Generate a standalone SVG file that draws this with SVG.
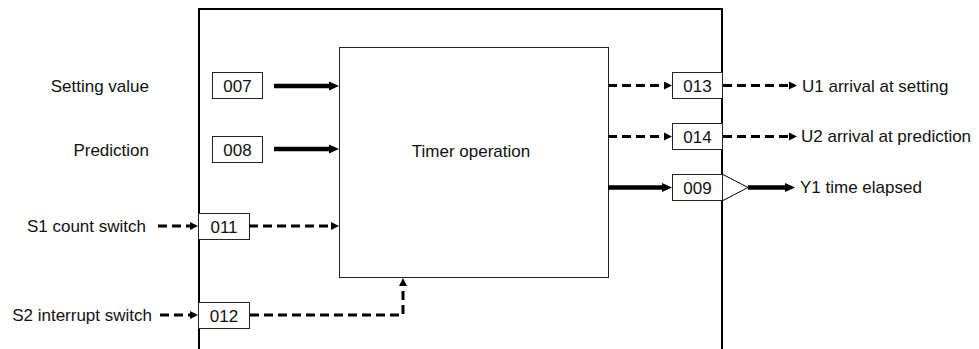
<svg xmlns="http://www.w3.org/2000/svg" width="979" height="349" viewBox="0 0 979 349">
<style>
text{font-family:"Liberation Sans",Arial,sans-serif;font-size:17px;fill:#111;dominant-baseline:central}
.box{fill:#fff;stroke:#222;stroke-width:1}
.thick{stroke:#000;stroke-width:4.5;fill:none}
.dash{stroke:#000;stroke-width:3;fill:none;stroke-dasharray:9 5}
</style>
<defs>
<marker id="ah" markerUnits="userSpaceOnUse" markerWidth="10" markerHeight="10" refX="0" refY="5" orient="auto" overflow="visible"><path d="M0,0.5 L10,5 L0,9.5 z" fill="#000"/></marker>
<marker id="ad" markerUnits="userSpaceOnUse" markerWidth="8" markerHeight="8" refX="0" refY="4" orient="auto" overflow="visible"><path d="M0,0 L8,4 L0,8 z" fill="#000"/></marker>
</defs>
<rect width="979" height="349" fill="#fff"/>
<g id="frame"><path d="M199,380 V9 H722 V380" fill="none" stroke="#000" stroke-width="2"/></g>
<g id="timer"><rect x="339.5" y="47.5" width="269" height="230" class="box"/><text x="471" y="151" text-anchor="middle">Timer operation</text></g>
<g id="labels-left">
<text x="149" y="86" text-anchor="end">Setting value</text>
<text x="149" y="150" text-anchor="end">Prediction</text>
<text x="146" y="226" text-anchor="end">S1 count switch</text>
<text x="152" y="315" text-anchor="end">S2 interrupt switch</text>
</g>
<g id="n007"><rect x="212.5" y="72.5" width="50" height="26" class="box"/><text x="237.5" y="86" text-anchor="middle">007</text></g>
<g id="n008"><rect x="212.5" y="136.5" width="50" height="26" class="box"/><text x="237.5" y="150" text-anchor="middle">008</text></g>
<g id="n011"><rect x="198.5" y="213.5" width="51" height="26" class="box"/><text x="224" y="227" text-anchor="middle">011</text></g>
<g id="n012"><rect x="198.5" y="302.5" width="51" height="26" class="box"/><text x="224" y="316" text-anchor="middle">012</text></g>
<g id="n013"><rect x="672.5" y="72.5" width="50" height="26" class="box"/><text x="697.5" y="86" text-anchor="middle">013</text></g>
<g id="n014"><rect x="672.5" y="123.5" width="50" height="26" class="box"/><text x="697.5" y="137" text-anchor="middle">014</text></g>
<g id="n009"><rect x="672.5" y="174.5" width="50" height="26" class="box"/><text x="697.5" y="188" text-anchor="middle">009</text>
<path d="M723,174.5 L748,187.5 L723,200.5" fill="#fff" stroke="#000" stroke-width="1"/></g>
<g id="labels-right">
<text x="802" y="86">U1 arrival at setting</text>
<text x="801" y="136">U2 arrival at prediction</text>
<text x="800" y="187">Y1 time elapsed</text>
</g>
<g id="connectors">
<line x1="274" y1="86" x2="329" y2="86" class="thick" marker-end="url(#ah)"/>
<line x1="274" y1="149" x2="329" y2="149" class="thick" marker-end="url(#ah)"/>
<line x1="608" y1="187.5" x2="662" y2="187.5" class="thick" marker-end="url(#ah)"/>
<line x1="748" y1="187.5" x2="785" y2="187.5" class="thick" marker-end="url(#ah)"/>
<line x1="158" y1="226" x2="190" y2="226" class="dash" marker-end="url(#ad)"/>
<line x1="249" y1="226" x2="331" y2="226" class="dash" marker-end="url(#ad)"/>
<line x1="160" y1="315" x2="190" y2="315" class="dash" marker-end="url(#ad)"/>
<path d="M250,315 H403 V286" class="dash" marker-end="url(#ad)"/>
<line x1="608" y1="85.5" x2="664" y2="85.5" class="dash" marker-end="url(#ad)"/>
<line x1="608" y1="136.5" x2="664" y2="136.5" class="dash" marker-end="url(#ad)"/>
<line x1="723" y1="85.5" x2="789" y2="85.5" class="dash" marker-end="url(#ad)"/>
<line x1="723" y1="136.5" x2="789" y2="136.5" class="dash" marker-end="url(#ad)"/>
</g>
</svg>
